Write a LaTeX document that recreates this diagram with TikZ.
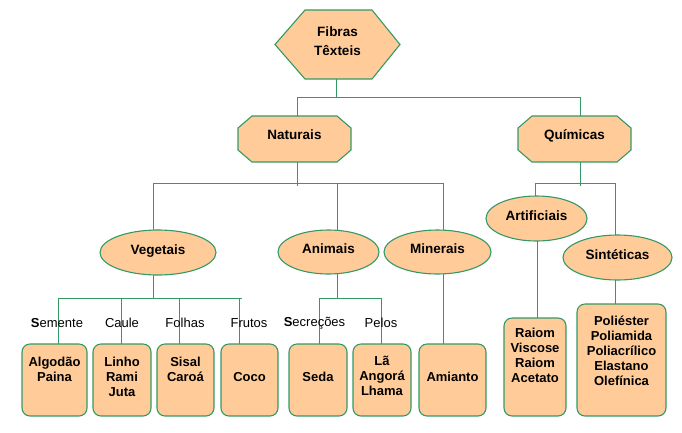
\documentclass[tikz,border=0pt]{standalone}
\usepackage{fontspec}
\setmainfont{Liberation Sans}
\usetikzlibrary{shapes.geometric}
\definecolor{fillc}{HTML}{FFCC99}
\definecolor{edgec}{RGB}{51,153,102}
\pgfdeclarelayer{back}
\pgfdeclarelayer{mid}
\pgfsetlayers{back,mid,main}
\begin{document}
\begin{tikzpicture}[x=1pt,y=-1pt,
  conn/.style={draw=edgec,line width=1pt},
  polyshape/.style={draw=edgec,fill=fillc,line width=1.1pt,line join=miter},
  hdr/.style={inner sep=0pt,outer sep=0pt,align=center,text depth=6pt,font=\fontsize{13.5}{19}\selectfont\bfseries},
  oval/.style={ellipse,draw=edgec,fill=fillc,line width=1.1pt,inner sep=0pt,text depth=6pt,font=\fontsize{13.5}{16}\selectfont\bfseries},
  leaf/.style={rectangle,rounded corners=8pt,draw=edgec,fill=fillc,line width=1.1pt,inner sep=0pt},
  leaftxt/.style={align=center,inner sep=0pt,font=\fontsize{13}{15}\selectfont\bfseries},
  cat/.style={inner sep=0pt,font=\fontsize{13}{15}\selectfont}
]
\useasboundingbox (0,0) rectangle (682,432);

% top levels
\node[hdr,minimum width=125pt,minimum height=69pt] (fib) at (337.5,44.5) {Fibras\\Têxteis};
\node[hdr,minimum width=113pt,minimum height=46pt,text depth=8pt] (nat) at (294.5,139) {Naturais};
\node[hdr,minimum width=113pt,minimum height=46pt,text depth=8pt] (qui) at (574.5,139) {Químicas};

\begin{pgfonlayer}{mid}
\draw[polyshape] (fib.west) -- ([xshift=30pt]fib.north west) -- ([xshift=-28pt]fib.north east) -- (fib.east) -- ([xshift=-28pt]fib.south east) -- ([xshift=30pt]fib.south west) -- cycle;
\draw[polyshape] ([yshift=-12pt]nat.north west) -- ([xshift=14pt]nat.north west) -- ([xshift=-14pt]nat.north east) -- ([yshift=-12pt]nat.north east) -- ([yshift=12pt]nat.south east) -- ([xshift=-14pt]nat.south east) -- ([xshift=14pt]nat.south west) -- ([yshift=12pt]nat.south west) -- cycle;
\draw[polyshape] ([yshift=-12pt]qui.north west) -- ([xshift=14pt]qui.north west) -- ([xshift=-14pt]qui.north east) -- ([yshift=-12pt]qui.north east) -- ([yshift=12pt]qui.south east) -- ([xshift=-14pt]qui.south east) -- ([xshift=14pt]qui.south west) -- ([yshift=12pt]qui.south west) -- cycle;
\end{pgfonlayer}

% ellipses
\node[oval,minimum width=116pt,minimum height=45pt] (veg) at (158,252.5) {Vegetais};
\node[oval,minimum width=101pt,minimum height=44pt] (ani) at (328.5,252) {Animais};
\node[oval,minimum width=107pt,minimum height=44pt] (min) at (437.5,252) {Minerais};
\node[oval,minimum width=101pt,minimum height=45pt] (art) at (536.5,218.5) {Artificiais};
\node[oval,minimum width=109pt,minimum height=45pt] (sin) at (617.5,257.5) {Sintéticas};

% category labels
\node[cat] (lsem) at (57,323) {{\bfseries S}emente};
\node[cat] (lcau) at (122,323) {Caule};
\node[cat] (lfol) at (185,323) {Folhas};
\node[cat] (lfru) at (249,323) {Frutos};
\node[cat] (lsec) at (314.5,323) {{\bfseries S}ecreções};
\node[cat] (lpel) at (381,323) {Pelos};

% leaf boxes
\node[leaf,minimum width=65pt,minimum height=72pt] (alg) at (54.5,380) {};
\node[leaf,minimum width=58pt,minimum height=72pt] (lin) at (122,380) {};
\node[leaf,minimum width=57pt,minimum height=72pt] (sis) at (185.5,380) {};
\node[leaf,minimum width=57pt,minimum height=72pt] (coc) at (249.5,380) {};
\node[leaf,minimum width=58pt,minimum height=72pt] (sed) at (318,380) {};
\node[leaf,minimum width=58pt,minimum height=72pt] (la) at (382,380) {};
\node[leaf,minimum width=67pt,minimum height=72pt] (ami) at (452.5,380) {};
\node[leaf,minimum width=62pt,minimum height=98pt] (rai) at (535,367) {};
\node[leaf,minimum width=89pt,minimum height=112pt] (pol) at (621.5,360) {};

\node[leaftxt] (algt) at (54.5,369) {Algodão\\Paina};
\node[leaftxt] (lint) at (122,376.5) {Linho\\Rami\\Juta};
\node[leaftxt] (sist) at (185.5,369) {Sisal\\Caroá};
\node[leaftxt] (coct) at (249.5,377) {Coco};
\node[leaftxt] (sedt) at (318,377) {Seda};
\node[leaftxt] (lat) at (382,375.5) {Lã\\Angorá\\Lhama};
\node[leaftxt] (amit) at (452.5,377) {Amianto};
\node[leaftxt] (rait) at (535,355.5) {Raiom\\Viscose\\Raiom\\Acetato};
\node[leaftxt] (polt) at (621.5,351) {Poliéster\\Poliamida\\Poliacrílico\\Elastano\\Olefínica};

% connectors
\begin{pgfonlayer}{back}
\draw[conn] ([xshift=-1.5pt]fib.center) -- ++(0,52.5);
\draw[conn] ([xshift=2.5pt]nat.center) -- ++(0,-42) -| ([xshift=5.5pt]qui.center);
\draw[conn] ([xshift=2.5pt]nat.center) -- ++(0,47);
\draw[conn] ([xshift=-5pt]veg.center) -- ++(0,-69.5) -| ([xshift=5.5pt]min.center);
\draw[conn] ([xshift=8.5pt]ani.center) -- ++(0,-69);
\draw[conn] ([xshift=5.5pt]qui.center) -- ++(0,47);
\draw[conn] ([xshift=-1.5pt]art.center) -- ++(0,-35.5) -| ([xshift=-2.5pt]sin.center);
\draw[conn] ([xshift=-5pt]veg.center) -- ++(0,45.5);
\draw[conn] ([xshift=3.5pt]alg.center) -- ++(0,-82) -- ++(184,0);
\draw[conn] ([xshift=-1pt]lin.center) -- ++(0,-82);
\draw[conn] ([xshift=-6.5pt]sis.center) -- ++(0,-82);
\draw[conn] ([xshift=-10.5pt]coc.center) -- ++(0,-82);
\draw[conn] ([xshift=8.5pt]ani.center) -- ++(0,46);
\draw[conn] ([xshift=1pt]sed.center) -- ++(0,-82) -| ([xshift=-1pt]la.center);
\draw[conn] ([xshift=5.5pt]min.center) -- ([xshift=-9.5pt]ami.center);
\draw[conn] ([xshift=0.5pt]art.center) -- ([xshift=2pt]rai.center);
\draw[conn] ([xshift=-2.5pt]sin.center) -- ([xshift=-6.5pt]pol.center);
\end{pgfonlayer}
\end{tikzpicture}
\end{document}
